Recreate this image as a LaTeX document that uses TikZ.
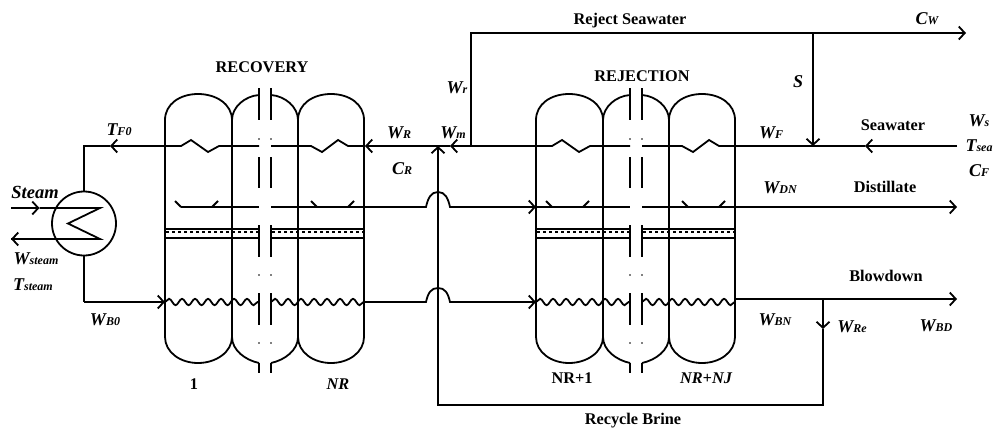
\documentclass[tikz,border=0pt]{standalone}
\usepackage{fontspec}
\setmainfont{Liberation Serif}
\usetikzlibrary{arrows.meta}
\usetikzlibrary{decorations.pathmorphing}
\newcommand{\flowlabel}[2]{{\fontsize{18}{18}\selectfont\bfseries\itshape #1\fontsize{12}{12}\selectfont #2}}
\tikzset{
  pipe/.style={line width=1.8pt},
  barb/.style={-{Straight Barb[length=6pt,width=13pt,line width=1.8pt]}},
  heavy/.style={line width=2.8pt},
  brine/.style={line width=1.8pt,decorate,decoration={snake,segment length=13pt,amplitude=3.2pt}},
  mesh/.style={line width=1.8pt,dash pattern=on 2.5pt off 3.5pt},
  title/.style={font=\fontsize{16.3}{17}\selectfont\bfseries,inner sep=0pt},
  flow/.style={inner sep=0pt}
}
\begin{document}
\begin{tikzpicture}[x=1pt,y=-1pt]
  \useasboundingbox (0,0) rectangle (993,431);

  % Flash stages, recovery then rejection
  \foreach \sx in {0,371} {
    \begin{scope}[xshift=\sx pt,pipe]
      \draw (165,120) .. controls (165,104) and (180,94) .. (198,94) .. controls (216,94) and (232,104) .. (232,120);
      \draw (232,120) .. controls (232,107) and (245,96) .. (259,95);
      \draw (271,95) .. controls (285,96) and (298,107) .. (298,120);
      \draw (298,120) .. controls (298,104) and (313,94) .. (331,94) .. controls (349,94) and (364,104) .. (364,120);
      \draw (165,337) .. controls (165,352) and (180,363) .. (198,363) .. controls (216,363) and (232,352) .. (232,337);
      \draw (232,337) .. controls (232,350) and (245,360) .. (259,363);
      \draw (271,363) .. controls (285,360) and (298,350) .. (298,337);
      \draw (298,337) .. controls (298,352) and (313,363) .. (331,363) .. controls (349,363) and (364,352) .. (364,337);
      \foreach \wx in {165,232,298,364}
        \draw (\wx,120) -- (\wx,337);

      % Broken middle of the train
      \foreach \gx in {259,271} {
        \draw (\gx,88) -- (\gx,120);
        \draw (\gx,157) -- (\gx,188);
        \draw (\gx,225) -- (\gx,257);
        \draw (\gx,293) -- (\gx,325);
        \draw (\gx,363) -- (\gx,373);
        \foreach \dy in {139,275,343}
          \fill (\gx,\dy) circle (0.9pt);
      }

      % Tube bundles
      \draw (165,146) -- (181,146) -- (191,140) -- (208,152) -- (219,146) -- (259,146);
      \draw (271,146) -- (311,146) -- (322,152) -- (338,140) -- (348,146) -- (364,146);

      % Distillate trays
      \draw (175,201) -- (181,207);
      \draw (212,207) -- (218,201);
      \draw (311,201) -- (317,207);
      \draw (348,207) -- (354,201);
      \draw (181,207) -- (259,207);
      \draw (271,207) -- (354,207);

      % Demisters
      \draw (165,229) -- (259,229);
      \draw (165,238) -- (259,238);
      \draw (271,229) -- (364,229);
      \draw (271,238) -- (364,238);
      \draw[mesh] (166,232) -- (259,232);
      \draw[mesh] (272,232) -- (364,232);

      % Brine level
      \draw[brine] (165,302) -- (259,302);
      \draw[brine] (271,302) -- (364,302);
    \end{scope}
  }

  % Brine heater
  \node[circle,draw,pipe,minimum size=64pt,inner sep=0pt] (heater) at (84,223.5) {};
  \coordinate (coilin) at (11,208);
  \coordinate (coilout) at (11,239);
  \draw[pipe,barb] (coilin) -- (39.5,208);
  \draw[pipe] (39.5,208) -- (100,208) -- (68,223.5) -- (100,239) -- (coilout);
  \draw[pipe,barb] (33,239) -- (coilout);

  % Feed and brine round the heater
  \coordinate (topbend) at (84,146);
  \coordinate (lowbend) at (84,302);
  \draw[pipe,barb] (165,146) -- (110,146);
  \draw[pipe] (110,146) -- (topbend) -- (heater.north);
  \draw[pipe] (heater.south) -- (lowbend);
  \draw[pipe,barb] (lowbend) -- (165,302);

  % Recirculating brine into recovery tubes
  \coordinate (mix) at (438,146);
  \draw[pipe,barb] (379,146) -- (365,146);
  \draw[heavy] (367,146) -- (379,146);
  \draw[pipe] (379,146) -- (mix);
  \draw[pipe,barb] (536,146) -- (450,146);
  \draw[pipe] (450,146) -- (mix);
  \draw[heavy] (471,146) -- (482,146);

  % Humps over the recycle line
  \draw[pipe] (354,207) -- (426,207) .. controls (428,198) and (431,192) .. (438,192) .. controls (445,192) and (448,198) .. (450,207) -- (470,207);
  \draw[pipe,barb] (470,207) -- (536,207);
  \draw[pipe] (536,207) -- (552,207);
  \draw[pipe] (364,302) -- (426,302) .. controls (428,293) and (431,288) .. (438,288) .. controls (445,288) and (448,293) .. (450,302) -- (470,302);
  \draw[pipe,barb] (470,302) -- (536,302);

  % Outside streams
  \coordinate (rejtop) at (471,33);
  \coordinate (ssplit) at (813,33);
  \coordinate (sjoin) at (813,146);
  \coordinate (blowsplit) at (823,299);
  \coordinate (recyclecorner) at (823,405);
  \coordinate (recycleleft) at (438,405);
  \draw[pipe] (471,146) -- (rejtop) -- (ssplit);
  \draw[pipe,barb] (ssplit) -- (966,33);
  \draw[pipe,barb] (ssplit) -- (sjoin);
  \draw[pipe,barb] (957,146) -- (865,146);
  \draw[pipe] (865,146) -- (719,146);
  \draw[heavy] (943,146) -- (957,146);
  \draw[pipe] (725,207) -- (760,207);
  \draw[pipe,barb] (760,207) -- (957,207);
  \draw[pipe] (735,299) -- (blowsplit);
  \draw[pipe,barb] (blowsplit) -- (957,299);
  \draw[pipe,barb] (blowsplit) -- (823,329);
  \draw[pipe] (823,329) -- (recyclecorner) -- (recycleleft) -- (438,160);
  \draw[pipe,barb] (438,160) -- (mix);

  % Stream names
  \node[title] (rejectname) at (630,20.5) {Reject Seawater};
  \node[title] (recoveryname) at (262,67) {RECOVERY};
  \node[title] (rejectionname) at (642,76) {REJECTION};
  \node[title] (seawatername) at (893,125) {Seawater};
  \node[title] (distillatename) at (885,187) {Distillate};
  \node[title] (blowdownname) at (886,276) {Blowdown};
  \node[title] (recyclename) at (633,421) {Recycle Brine};
  \node[title] (stagefirst) at (194,384) {1};
  \node[title] (stagenr) at (338,384) {\itshape NR};
  \node[title] (stagenext) at (572,378) {NR+1};
  \node[title] (stagelast) at (706,378) {\itshape NR+NJ};

  % Stream symbols
  \node[flow] (steam) at (35,192) {\fontsize{18.5}{18}\selectfont\bfseries\itshape Steam};
  \node[flow] (wsteam) at (36,259) {\flowlabel{W}{steam}};
  \node[flow] (tsteam) at (33,285) {\flowlabel{T}{steam}};
  \node[flow] (tfzero) at (119,130) {\flowlabel{T}{F0}};
  \node[flow] (wr) at (399,133) {\flowlabel{W}{R}};
  \node[flow] (cr) at (402,169) {\flowlabel{C}{R}};
  \node[flow] (wrej) at (457,88) {\flowlabel{W}{r}};
  \node[flow] (wm) at (453,133) {\flowlabel{W}{m}};
  \node[flow] (cw) at (927,19) {\flowlabel{C}{W}};
  \node[flow] (ss) at (798,82) {\flowlabel{S}{}};
  \node[flow] (wf) at (771,133) {\flowlabel{W}{F}};
  \node[flow] (wdn) at (780,188) {\flowlabel{W}{DN}};
  \node[flow] (ws) at (979,121) {\flowlabel{W}{s}};
  \node[flow] (tsea) at (979,146) {\flowlabel{T}{sea}};
  \node[flow] (cf) at (979,171) {\flowlabel{C}{F}};
  \node[flow] (wbn) at (775,320) {\flowlabel{W}{BN}};
  \node[flow] (wre) at (852,327) {\flowlabel{W}{Re}};
  \node[flow] (wbd) at (936,326) {\flowlabel{W}{BD}};
  \node[flow] (wbzero) at (105,320) {\flowlabel{W}{B0}};
\end{tikzpicture}
\end{document}
